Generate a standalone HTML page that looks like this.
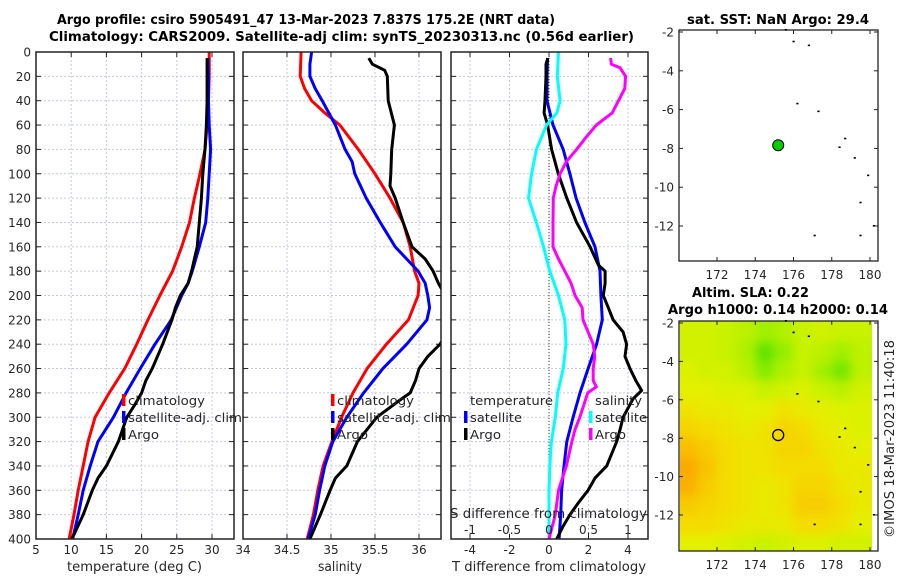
<!DOCTYPE html>
<html><head><meta charset="utf-8">
<style>
html,body{margin:0;padding:0;background:#fff;}
svg{display:block;font-family:"DejaVu Sans","Liberation Sans",sans-serif;}
.tk{font-size:12px;fill:#262626;}
.ttl{font-size:13px;font-weight:bold;fill:#000;}
.lg{font-size:12.5px;fill:#262626;}
</style></head>
<body>
<svg id="fig" width="900" height="580" viewBox="0 0 900 580">
<defs>
<clipPath id="c1"><rect x="36" y="52" width="198" height="487"/></clipPath>
<clipPath id="c2"><rect x="243" y="52" width="198" height="487"/></clipPath>
<clipPath id="c3"><rect x="451" y="52" width="197" height="487"/></clipPath>
<clipPath id="c5"><rect x="680" y="321" width="192" height="230"/></clipPath>
<filter id="bl" x="-5%" y="-5%" width="110%" height="110%"><feGaussianBlur stdDeviation="5"/></filter>
</defs>
<text class="ttl" x="57" y="24" textLength="498" lengthAdjust="spacingAndGlyphs">Argo profile: csiro 5905491_47 13-Mar-2023 7.837S 175.2E (NRT data)</text>
<text class="ttl" x="49" y="41" textLength="585" lengthAdjust="spacingAndGlyphs">Climatology: CARS2009. Satellite-adj clim: synTS_20230313.nc (0.56d earlier)</text>
<g id="root"></g>
<text class="tk" transform="translate(894,538) rotate(-90)" style="font-size:13px" textLength="198" lengthAdjust="spacingAndGlyphs">©IMOS 18-Mar-2023 11:40:18</text>
</svg>
<script>
// ---- data ----
const depthTicks=[0,20,40,60,80,100,120,140,160,180,200,220,240,260,280,300,320,340,360,380,400];
const tempTicks=[5,10,15,20,25,30];
const salTicks=[34,34.5,35,35.5,36];
const tdiffTicks=[-4,-2,0,2,4];
const sdiffTicks=[-1,-0.5,0,0.5,1];
const tClimD=[0,20,40,60,80,100,120,140,160,180,200,220,240,260,280,300,320,340,360,380,400];
const tClim=[29.6,29.6,29.5,29.3,29.0,28.3,27.5,26.8,25.7,24.4,22.6,20.9,19.3,17.6,15.4,13.4,12.4,11.7,11.0,10.4,9.7];
const tSatD=[5,20,40,60,80,100,120,140,160,180,190,200,220,240,260,280,300,320,340,360,380,400];
const tSat=[29.4,29.5,29.5,29.6,29.8,29.6,29.4,29.1,28.2,27.2,26.6,25.7,24.2,21.9,19.8,17.8,16.0,13.8,12.7,11.7,11.0,10.2];
const tArgoD=[5,20,40,60,80,100,120,140,160,180,190,200,210,220,240,260,270,280,290,300,320,340,350,360,380,400];
const tArgo=[29.3,29.3,29.3,29.2,29.0,28.7,28.5,28.2,27.9,27.1,26.6,25.5,24.8,24.3,23.0,21.5,20.6,20.0,19.0,17.9,16.7,15.0,13.8,13.0,11.7,10.1];
const sClimD=[0,20,30,40,50,60,80,100,120,140,160,180,190,200,220,240,260,280,300,320,340,360,380,400];
const sClim=[34.66,34.65,34.70,34.78,34.93,35.10,35.31,35.50,35.67,35.82,35.90,35.95,36.0,35.99,35.88,35.63,35.41,35.25,35.12,35.01,34.91,34.85,34.80,34.73];
const sSatD=[0,10,20,30,40,60,80,90,100,120,140,160,180,190,200,210,220,240,260,280,300,320,340,360,380,400];
const sSat=[34.78,34.76,34.76,34.82,34.90,35.05,35.16,35.24,35.27,35.40,35.56,35.73,35.99,36.07,36.10,36.12,36.09,35.86,35.59,35.37,35.18,35.02,34.93,34.87,34.82,34.74];
const sArgoD=[5,10,15,20,40,60,80,100,110,120,140,160,170,180,190,200,220,240,250,260,270,280,285,300,320,340,350,360,380,400];
const sArgo=[35.43,35.47,35.61,35.64,35.65,35.72,35.69,35.68,35.67,35.73,35.82,35.92,36.07,36.16,36.22,36.30,36.40,36.24,36.10,36.0,35.96,35.90,35.80,35.52,35.30,35.18,35.05,34.99,34.88,34.76];
const dTSatD=[5,20,40,60,80,100,120,140,160,180,200,220,240,260,280,300,320,340,360,380,400];
const dTSat=[-0.07,-0.1,-0.1,0.2,0.72,1.06,1.37,1.82,2.33,2.58,2.63,2.7,2.41,1.98,1.57,1.22,0.9,0.76,0.64,0.59,0.51];
const dTArgoD=[5,10,20,40,50,60,80,100,120,140,160,175,180,190,200,210,220,230,240,250,260,270,278,285,300,310,320,340,350,360,370,380,390,400];
const dTArgo=[-0.06,-0.15,-0.15,-0.2,-0.25,-0.07,0.13,0.47,0.9,1.4,2.08,2.5,2.84,2.84,2.75,3.0,3.25,3.75,3.93,3.85,4.1,4.4,4.69,4.25,3.75,3.6,3.43,2.92,2.33,1.98,1.5,1.06,0.7,0.39];
const dSSatD=[0,20,40,50,60,80,100,120,140,160,180,200,220,240,260,280,300,320,340,360,400];
const dSSat=[0.12,0.105,0.14,0.1,-0.03,-0.16,-0.22,-0.26,-0.16,-0.07,0.01,0.12,0.2,0.215,0.18,0.11,0.08,0.03,0.01,0,0];
const dSArgoD=[5,10,13,20,30,40,50,60,70,80,90,100,110,120,140,160,170,180,190,200,210,220,240,250,260,270,275,280,290,300,310,320,340,350,360,380,390,400];
const dSArgo=[0.78,0.79,0.9,0.97,0.96,0.88,0.8,0.6,0.47,0.35,0.22,0.14,0.09,0.055,0.05,0.05,0.12,0.2,0.28,0.33,0.42,0.43,0.56,0.58,0.56,0.56,0.6,0.49,0.44,0.39,0.33,0.29,0.22,0.17,0.12,0.08,0.04,0];
const lonTicks=[172,174,176,178,180];
const latTicks=[-2,-4,-6,-8,-10,-12];
const argoLon=[175.2];
const argoLat=[-7.837];
const speckLon=[175.6,176,176.8,176.2,177.3,178.7,178.4,179.2,179.9,179.5,180.2,177.1,179.5];
const speckLat=[-1.9,-2.5,-2.7,-5.7,-6.1,-7.5,-7.95,-8.5,-9.4,-10.8,-12.0,-12.5,-12.5];
const slaLon=[170,171,172,173,174,175,176,177,178,179];
const slaLat=[-2,-3,-4,-5,-6,-7,-8,-9,-10,-11,-12,-13];
const slaRow0=[0.19,0.19,0.18,0.17,0.15,0.16,0.18,0.19,0.18,0.18];
const slaRow1=[0.19,0.19,0.18,0.16,0.11,0.14,0.18,0.17,0.15,0.17];
const slaRow2=[0.20,0.19,0.19,0.17,0.13,0.16,0.18,0.15,0.12,0.17];
const slaRow3=[0.21,0.21,0.20,0.20,0.18,0.19,0.20,0.18,0.17,0.19];
const slaRow4=[0.23,0.22,0.22,0.21,0.21,0.23,0.22,0.21,0.20,0.20];
const slaRow5=[0.25,0.24,0.23,0.22,0.23,0.25,0.24,0.22,0.21,0.20];
const slaRow6=[0.28,0.26,0.24,0.23,0.23,0.25,0.25,0.23,0.22,0.21];
const slaRow7=[0.31,0.27,0.24,0.23,0.23,0.24,0.24,0.24,0.22,0.22];
const slaRow8=[0.30,0.26,0.24,0.23,0.22,0.23,0.25,0.25,0.23,0.22];
const slaRow9=[0.26,0.25,0.24,0.23,0.22,0.23,0.26,0.26,0.24,0.22];
const slaRow10=[0.24,0.24,0.23,0.22,0.22,0.22,0.24,0.24,0.23,0.21];
const slaRow11=[0.21,0.21,0.20,0.19,0.18,0.19,0.20,0.20,0.19,0.19];
const slaRows=[slaRow0,slaRow1,slaRow2,slaRow3,slaRow4,slaRow5,slaRow6,slaRow7,slaRow8,slaRow9,slaRow10,slaRow11];

// ---- helpers ----
const NS='http://www.w3.org/2000/svg';
const root=document.getElementById('root');
function mk(tag,attrs,parent){const e=document.createElementNS(NS,tag);for(const k in attrs)e.setAttribute(k,attrs[k]);(parent||root).appendChild(e);return e;}
const yD=d=>52+d*1.2175;
function lin(v0,p0,v1,p1){return v=>p0+(v-v0)*(p1-p0)/(v1-v0);}
const xT=lin(5,36,30,212);
const xS=lin(34,243,36,419);
const xTd=lin(0,549,4,628);
const xSd=v=>xTd(v*4);

function panel(name,x0,x1,xs,xticks,fmt){
  const g=mk('g',{});
  
  
  xticks.forEach(t=>{const x=xs(t);if(x>x0+1&&x<x1-1){const l=mk('line',{x1:x,x2:x,y1:52,y2:539,stroke:'#c6c9e6','stroke-width':1,'stroke-dasharray':'2,2'},g);}});
  depthTicks.forEach(d=>{const y=yD(d);if(d>0&&d<400){const l=mk('line',{x1:x0,x2:x1,y1:y,y2:y,stroke:'#c6c9e6','stroke-width':1,'stroke-dasharray':'2,2'},g);}
    mk('line',{x1:x0,x2:x0+5,y1:y,y2:y,stroke:'#222','stroke-width':1},g);
    mk('line',{x1:x1-5,x2:x1,y1:y,y2:y,stroke:'#222','stroke-width':1},g);});
  xticks.forEach(t=>{const x=xs(t);const lb=mk('text',{x:x,y:554,'text-anchor':'middle',class:'tk'},g);lb.textContent=fmt(t);
    mk('line',{x1:x,x2:x,y1:539,y2:534,stroke:'#222','stroke-width':1},g);mk('line',{x1:x,x2:x,y1:52,y2:57,stroke:'#222','stroke-width':1},g);});
  return g;
}
function frame(name,x0,x1){const r=mk('rect',{x:x0,y:52,width:x1-x0,height:487,fill:'none',stroke:'#222','stroke-width':1.5});}
function series(name,ds,vs,xs,color,clip,w){
  const pts=ds.map((d,i)=>xs(vs[i]).toFixed(1)+','+yD(d).toFixed(1)).join(' ');
  const p=mk('polyline',{points:pts,fill:'none',stroke:color,'stroke-width':w||3,'stroke-linejoin':'round','clip-path':'url(#'+clip+')'});
  
  
}
function txt(cls,x,y,s,len,anchor,style){const t=mk('text',{x:x,y:y,class:cls});if(anchor)t.setAttribute('text-anchor',anchor);if(style)t.setAttribute('style',style);if(len){t.setAttribute('textLength',len);t.setAttribute('lengthAdjust','spacingAndGlyphs');}t.textContent=s;return t;}
function legend(name,x,y,items){
  items.forEach((it,i)=>{const yy=y+i*17;
    const b=mk('rect',{x:x,y:yy-11,width:3.5,height:12,fill:it[1]});
    
    const t=txt('lg',x+6,yy,it[0],it[2]);
    });
}

// panel 1 temperature
panel('temperature',36,234,xT,tempTicks,t=>String(t));
series('temp-climatology-line',tClimD,tClim,xT,'#ff0000','c1');
series('temp-satellite-line',tSatD,tSat,xT,'#0000ff','c1');
series('temp-argo-line',tArgoD,tArgo,xT,'#000000','c1');
frame('temperature',36,234);
depthTicks.forEach(d=>{const t=mk('text',{x:31,y:yD(d)+4.5,'text-anchor':'end',class:'tk'});t.textContent=d;});
(function(){const t=txt('tk',67,571,'temperature (deg C)',135,null,'font-size:13px');})();
legend('temp-legend',122,405,[['climatology','#ff0000',77],['satellite-adj. clim','#0000ff',114],['Argo','#000',31]]);

// panel 2 salinity
panel('salinity',243,441,xS,salTicks,t=>String(t));
series('sal-climatology-line',sClimD,sClim,xS,'#ff0000','c2');
series('sal-satellite-line',sSatD,sSat,xS,'#0000ff','c2');
series('sal-argo-line',sArgoD,sArgo,xS,'#000000','c2');
frame('salinity',243,441);
(function(){const t=txt('tk',318,571,'salinity',44,null,'font-size:13px');})();
legend('sal-legend',331,405,[['climatology','#ff0000',77],['satellite-adj. clim','#0000ff',114],['Argo','#000',31]]);

// panel 3 differences
panel('difference',451,648,xTd,tdiffTicks,t=>String(t));
(function(){const l=mk('line',{x1:549,x2:549,y1:52,y2:539,stroke:'#3a4a2a','stroke-width':1,'stroke-dasharray':'1,2'});})();
series('tdiff-satellite-line',dTSatD,dTSat,xTd,'#0000ff','c3');
series('tdiff-argo-line',dTArgoD,dTArgo,xTd,'#000000','c3');
series('sdiff-satellite-line',dSSatD,dSSat,xSd,'#00ffff','c3');
series('sdiff-argo-line',dSArgoD,dSArgo,xSd,'#ff00ff','c3');
frame('difference',451,648);
sdiffTicks.forEach(s=>{const t=mk('text',{x:xSd(s),y:534,'text-anchor':'middle',class:'tk'});t.textContent=String(s);});
(function(){let t=txt('tk',450,518,'S difference from climatology',197,null,'font-size:13px');
t=txt('tk',452,571,'T difference from climatology',194,null,'font-size:13px');})();
(function(){let t=txt('lg',470,405,'temperature',83);
t=txt('lg',595,405,'salinity',47);})();
legend('tdiff-legend',464,422,[['satellite','#0000ff',52],['Argo','#000',31]]);
legend('sdiff-legend',589,422,[['satellite','#00ffff',52],['Argo','#ff00ff',31]]);

// maps
const xLon=lin(172,717,180,870);
function mapAxes(name,top,bot,yLat){
  const r=mk('rect',{x:679,y:top,width:199,height:bot-top,fill:'none',stroke:'#222','stroke-width':1.3});
  
  latTicks.forEach(v=>{const y=yLat(v);const t=mk('text',{x:674,y:y+4.5,'text-anchor':'end',class:'tk'});t.textContent=String(v);
    mk('line',{x1:679,x2:683,y1:y,y2:y,stroke:'#222'});mk('line',{x1:874,x2:878,y1:y,y2:y,stroke:'#222'});});
  lonTicks.forEach(v=>{const x=xLon(v);const t=mk('text',{x:x,y:bot+18,'text-anchor':'middle',class:'tk'});t.textContent=String(v);
    mk('line',{x1:x,x2:x,y1:bot,y2:bot-4,stroke:'#222'});mk('line',{x1:x,x2:x,y1:top,y2:top+4,stroke:'#222'});});
  speckLon.forEach((lo,i)=>{const s=mk('rect',{x:xLon(lo)-1,y:yLat(speckLat[i])-1,width:2.2,height:1.6,fill:'#000'});});
}
const yLat1=lin(-2,32,-12,226);
mapAxes('sst-map',30,261,yLat1);
(function(){const t=txt('ttl',687,24,'sat. SST: NaN Argo: 29.4',182);})();
argoLon.forEach((lo,i)=>{const c=mk('circle',{cx:xLon(lo),cy:yLat1(argoLat[i]),r:5.5,fill:'#00d000',stroke:'#000','stroke-width':1});});

const yLat2=lin(-2,323,-12,515);
const stops=[[0.10,[80,224,0]],[0.14,[150,238,0]],[0.18,[200,242,0]],[0.21,[228,240,0]],[0.24,[244,220,0]],[0.27,[248,196,0]],[0.31,[250,170,0]]];
function cmap(v){if(v<=stops[0][0])return stops[0][1];for(let i=1;i<stops.length;i++){if(v<=stops[i][0]){const a=stops[i-1],b=stops[i];const f=(v-a[0])/(b[0]-a[0]);return a[1].map((c,k)=>Math.round(c+(b[1][k]-c)*f));}}return stops[stops.length-1][1];}
const hg=mk('g',{'clip-path':'url(#c5)'});

mk('rect',{x:675,y:315,width:205,height:245,fill:'rgb(225,240,0)'},hg);
const hb=mk('g',{filter:'url(#bl)'},hg);
slaRows.forEach((row,ri)=>{row.forEach((v,ci)=>{
  const x0=xLon(slaLon[ci]),x1=xLon(slaLon[ci]+1),y0=yLat2(slaLat[ri]),y1=yLat2(slaLat[ri]-1);
  const c=cmap(v);
  const ex0=ci===0?x0-15:x0, ex1=ci===row.length-1?x1+15:x1, ey0=ri===0?y0-15:y0, ey1=ri===slaRows.length-1?y1+15:y1;
  const r=mk('rect',{x:ex0,y:ey0,width:ex1-ex0+0.5,height:ey1-ey0+0.5,fill:'rgb('+c.join(',')+')'},hb);
  
  
});});
mapAxes('sla-map',321,551,yLat2);
(function(){let t=txt('ttl',692,297,'Altim. SLA: 0.22',117);
t=txt('ttl',668,314,'Argo h1000: 0.14 h2000: 0.14',220);})();
argoLon.forEach((lo,i)=>{const c=mk('circle',{cx:xLon(lo),cy:yLat2(argoLat[i]),r:5.5,fill:'none',stroke:'#000','stroke-width':1.3});});
</script>
</body></html>
